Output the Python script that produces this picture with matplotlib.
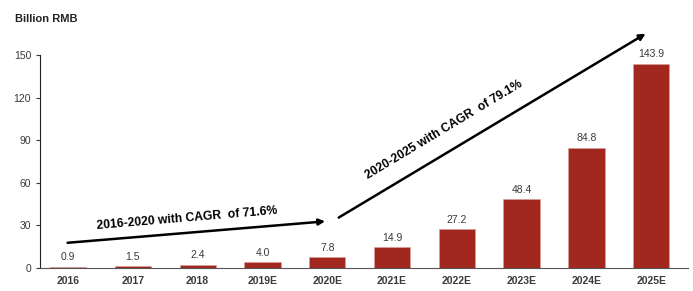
import matplotlib.pyplot as plt
import numpy as np

plt.rcParams['font.family'] = ['Liberation Sans', 'DejaVu Sans']

years = ['2016', '2017', '2018', '2019E', '2020E', '2021E', '2022E', '2023E', '2024E', '2025E']
market = [0.9, 1.5, 2.4, 4.0, 7.8, 14.9, 27.2, 48.4, 84.8, 143.9]
cagr_labels = ['2016-2020 with CAGR  of 71.6%', '2020-2025 with CAGR  of 79.1%']

bar_color = '#A1271F'
text_color = '#3a3a3a'

fig = plt.figure(figsize=(6.93, 2.91), dpi=100)
ax = fig.add_axes([0.058, 0.079, 0.935, 0.732])

x = np.arange(len(years))
ax.bar(x, market, width=0.56, color=bar_color, edgecolor='#D9A09A', linewidth=0.5, zorder=2)

for xi, v in zip(x, market):
	ax.text(xi, v + 3, '%.1f' % v, ha='center', va='bottom', fontsize=7.5, color=text_color)

ax.set_xlim(-0.43, 9.57)
ax.set_ylim(0, 150)
ax.set_yticks([0, 30, 60, 90, 120, 150])
ax.set_xticks(x)
ax.set_xticklabels(years)
ax.tick_params(axis='y', labelsize=7.5, colors=text_color, length=3, width=0.8, direction='out')
ax.tick_params(axis='x', labelsize=7.5, colors=text_color, length=0, pad=6)
for lbl in ax.get_xticklabels():
	lbl.set_fontweight('bold')

for side in ['top', 'right']:
	ax.spines[side].set_visible(False)
ax.spines['left'].set_color('#222222')
ax.spines['bottom'].set_color('#555555')

# CAGR arrows
arrow_kw = dict(arrowstyle='-|>', color='black', lw=1.8, mutation_scale=9)
ax.annotate('', xy=(4.01, 33), xytext=(-0.05, 17.6),
	arrowprops=arrow_kw, annotation_clip=False)
ax.annotate('', xy=(8.95, 166), xytext=(4.14, 34.5),
	arrowprops=arrow_kw, annotation_clip=False)

ax.text(1.84, 35, cagr_labels[0], rotation=4.8, ha='center', va='center',
	fontsize=8.7, fontweight='bold', color='black')
ax.text(5.8, 97, cagr_labels[1], rotation=31, ha='center', va='center',
	fontsize=8.7, fontweight='bold', color='black')

fig.text(0.022, 0.925, 'Billion RMB', fontsize=8, fontweight='bold', color='#222222')

fig.savefig('out.png', dpi=100)
